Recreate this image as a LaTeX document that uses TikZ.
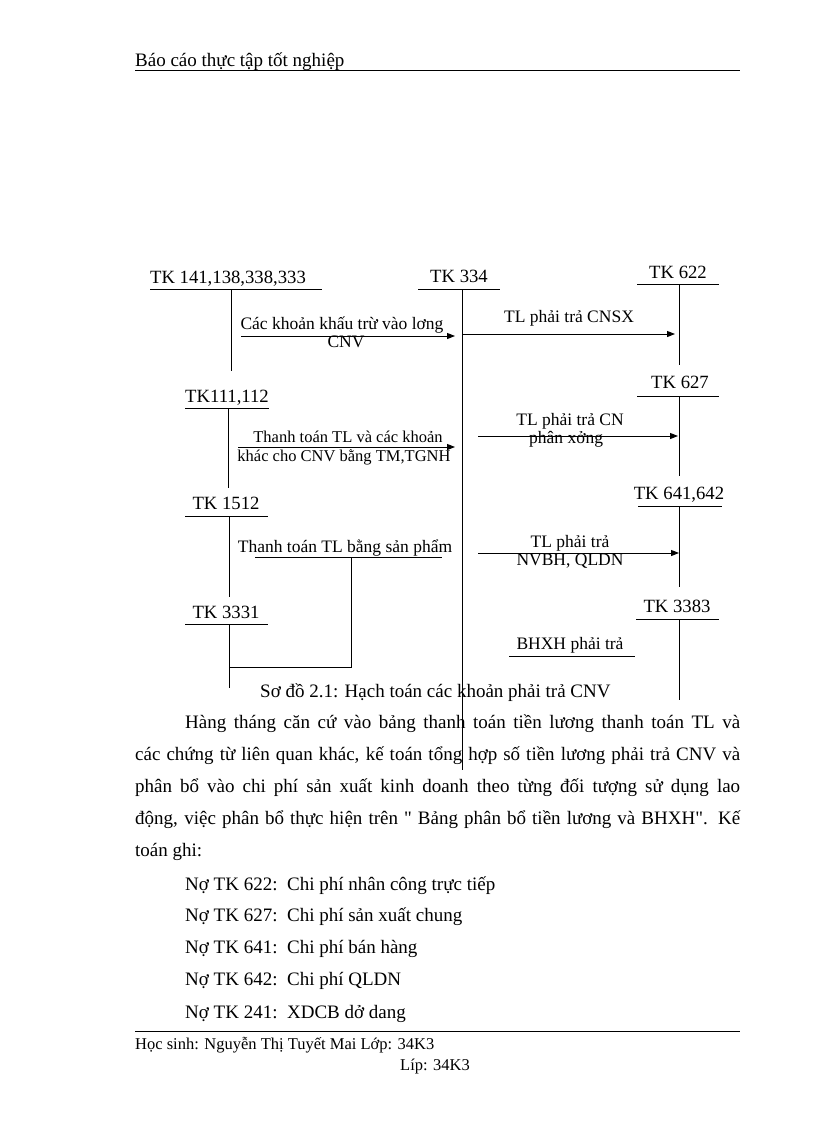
\documentclass[tikz,border=0pt]{standalone}
\usepackage{fontspec}
\setmainfont{Liberation Serif}
\newfontfamily\nq{Liberation Serif}[Ligatures=TeXOff]
\usetikzlibrary{arrows.meta}
\begin{document}
\begin{tikzpicture}[x=1pt,y=-1pt,
  acc/.style={inner sep=0pt, anchor=base, font=\fontsize{18.7}{22}\selectfont},
  lbl/.style={inner sep=0pt, anchor=base, font=\fontsize{17.5}{20}\selectfont},
  lbs/.style={inner sep=0pt, anchor=base, font=\fontsize{16.5}{20}\selectfont},
  body/.style={inner sep=0pt, anchor=base west, font=\fontsize{19}{22}\selectfont},
  foot/.style={inner sep=0pt, anchor=base west, font=\fontsize{16.5}{20}\selectfont},
  ln/.style={line width=1pt},
  arr/.style={line width=1pt, -{Triangle[length=8pt,width=6pt]}}]
\path[use as bounding box] (0,0) rectangle (816,1123);

% header
\node[body] (hdr) at (135,67) {Báo cáo thực tập tốt nghiệp};
\coordinate (hl) at (135,71); \coordinate (hr) at (740,71);
\draw[ln] (hl) -- (hr);

% TK 141,138,338,333
\node[acc] (a1) at (228,283) {TK 141,138,338,333};
\coordinate (a1l) at (150,289); \coordinate (a1r) at (322,289);
\coordinate (a1t) at (231,289); \coordinate (a1b) at (231,371);
\draw[ln] (a1l) -- (a1r); \draw[ln] (a1t) -- (a1b);

% TK 334
\node[acc] (b1) at (459,282) {TK 334};
\coordinate (b1l) at (418,289); \coordinate (b1r) at (500,289);
\coordinate (b1t) at (462,289); \coordinate (b1b) at (462,770);
\draw[ln] (b1l) -- (b1r); \draw[ln] (b1t) -- (b1b);

% TK 622
\node[acc] (c1) at (678,278) {TK 622};
\coordinate (c1l) at (637,284); \coordinate (c1r) at (719,284);
\coordinate (c1t) at (679,284); \coordinate (c1b) at (679,365);
\draw[ln] (c1l) -- (c1r); \draw[ln] (c1t) -- (c1b);

% arrow 1
\coordinate (r1s) at (241,336); \coordinate (r1e) at (455,336);
\draw[arr] (r1s) -- (r1e);
\node[lbl] (t1a) at (342,329) {Các khoản khấu trừ vào lơng};
\node[lbl] (t1b) at (346,347) {CNV};

% arrow 2
\coordinate (r2s) at (463,334); \coordinate (r2e) at (675,334);
\draw[arr] (r2s) -- (r2e);
\node[lbl] (t2) at (569,322) {TL phải trả CNSX};

% TK111,112
\node[acc] (a2) at (227,402) {TK111,112};
\coordinate (a2l) at (185,408); \coordinate (a2r) at (269,408);
\coordinate (a2t) at (228,408); \coordinate (a2b) at (228,488);
\draw[ln] (a2l) -- (a2r); \draw[ln] (a2t) -- (a2b);

\coordinate (r3s) at (238,447); \coordinate (r3e) at (455,447);
\draw[arr] (r3s) -- (r3e);
\node[lbs] (t3a) at (348,442) {Thanh toán TL và các khoản};
\node[lbs] (t3b) at (344,461) {khác cho CNV bằng TM,TGNH};

% TK 627
\node[acc] (c2) at (680,388) {TK 627};
\coordinate (c2l) at (637,396); \coordinate (c2r) at (719,396);
\coordinate (c2t) at (679,396); \coordinate (c2b) at (679,476);
\draw[ln] (c2l) -- (c2r); \draw[ln] (c2t) -- (c2b);

\coordinate (r4s) at (478,436); \coordinate (r4e) at (678,436);
\draw[arr] (r4s) -- (r4e);
\node[lbl] (t4a) at (570,425) {TL phải trả CN};
\node[lbl, anchor=base west] (t4b) at (529,443) {phân xởng};

% TK 1512
\node[acc] (a3) at (226,509) {TK 1512};
\coordinate (a3l) at (185,516); \coordinate (a3r) at (268,516);
\coordinate (a3t) at (229,516); \coordinate (a3b) at (229,597);
\draw[ln] (a3l) -- (a3r); \draw[ln] (a3t) -- (a3b);

\node[lbl] (t5) at (345,552) {Thanh toán TL bằng sản phẩm};
\coordinate (u5l) at (255,557); \coordinate (u5r) at (442,557);
\coordinate (u5t) at (351,557); \coordinate (u5b) at (351,667);
\coordinate (a4j) at (229,667);
\draw[ln] (u5l) -- (u5r);
\draw[ln] (u5t) -- (u5b) -- (a4j);

% TK 3331
\node[acc] (a4) at (226,618) {TK 3331};
\coordinate (a4l) at (185,624); \coordinate (a4r) at (268,624);
\coordinate (a4t) at (229,624); \coordinate (a4b) at (229,688);
\draw[ln] (a4l) -- (a4r); \draw[ln] (a4t) -- (a4b);

% TK 641,642
\node[acc] (c3) at (679,499) {TK 641,642};
\coordinate (c3l) at (638,506); \coordinate (c3r) at (722,506);
\coordinate (c3t) at (679,506); \coordinate (c3b) at (679,587);
\draw[ln] (c3l) -- (c3r); \draw[ln] (c3t) -- (c3b);

\coordinate (r6s) at (478,553); \coordinate (r6e) at (679,553);
\draw[arr] (r6s) -- (r6e);
\node[lbl] (t6a) at (570,547) {TL phải trả};
\node[lbl] (t6b) at (570,565) {NVBH, QLDN};

% TK 3383
\node[acc] (c4) at (677,612) {TK 3383};
\coordinate (c4l) at (636,619); \coordinate (c4r) at (719,619);
\coordinate (c4t) at (679,619); \coordinate (c4b) at (679,700);
\draw[ln] (c4l) -- (c4r); \draw[ln] (c4t) -- (c4b);

\node[lbl] (t7) at (570,649) {BHXH phải trả};
\coordinate (u7l) at (509,656); \coordinate (u7r) at (635,656);
\draw[ln] (u7l) -- (u7r);

% caption
\node[body] (cap) at (260,697) {Sơ đồ 2.1: Hạch toán các khoản phải trả CNV};

% paragraph
\node[body] (p1) at (185,728) {\makebox[555pt][s]{Hàng tháng căn cứ vào bảng thanh toán tiền lương thanh toán TL và}};
\node[body] (p2) at (135,760) {\makebox[605pt][s]{các chứng từ liên quan khác, kế toán tổng hợp số tiền lương phải trả CNV và}};
\node[body] (p3) at (135,792) {\makebox[605pt][s]{phân bổ vào chi phí sản xuất kinh doanh theo từng đối tượng sử dụng lao}};
\node[body] (p4) at (135,824) {\makebox[605pt][s]{động, việc phân bổ thực hiện trên {\nq"} Bảng phân bổ tiền lương và BHXH{\nq"}. Kế}};
\node[body] (p5) at (135,856) {toán ghi:};

\node[body] (n1) at (185,890) {Nợ TK 622:\ \ Chi phí nhân công trực tiếp};
\node[body] (n2) at (185,921) {Nợ TK 627:\ \ Chi phí sản xuất chung};
\node[body] (n3) at (185,953) {Nợ TK 641:\ \ Chi phí bán hàng};
\node[body] (n4) at (185,985) {Nợ TK 642:\ \ Chi phí QLDN};
\node[body] (n5) at (185,1018) {Nợ TK 241:\ \ XDCB dở dang};

% footer
\coordinate (fl) at (135,1031); \coordinate (fr) at (740,1031);
\draw[ln] (fl) -- (fr);
\node[foot] (f1) at (135,1049) {Học sinh: Nguyễn Thị Tuyết Mai Lớp: 34K3};
\node[foot] (f2) at (400,1070) {Líp: 34K3};
\end{tikzpicture}
\end{document}
